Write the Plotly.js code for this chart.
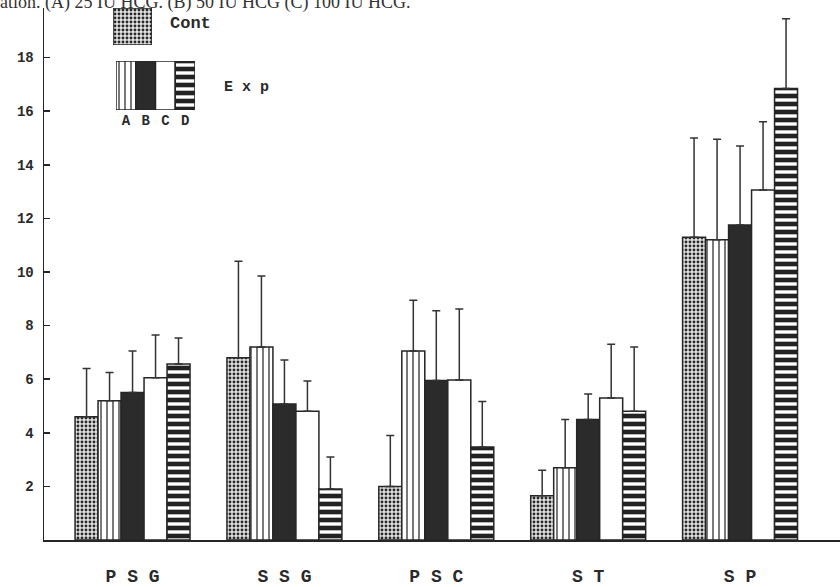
<!DOCTYPE html>
<html>
<head>
<meta charset="utf-8">
<script src="https://cdn.plot.ly/plotly-3.0.1.min.js"></script>
<style>html,body{margin:0;padding:0;background:#fff;}#chart{width:840px;height:587px;}</style>
</head>
<body>
<div id="chart"></div>
<script>
// ---- data ----
const categories = ["PSG", "SSG", "PSC", "ST", "SP"];
const categoryLabels = ["P S G", "S S G", "P S C", "S T", "S P"];
const yTickVals = [2, 4, 6, 8, 10, 12, 14, 16, 18];

const contValues = [4.6, 6.8, 2.0, 1.65, 11.3];
const contErrors = [1.8, 3.6, 1.9, 0.95, 3.7];

const expAValues = [5.2, 7.2, 7.05, 2.7, 11.2];
const expAErrors = [1.05, 2.65, 1.9, 1.8, 3.75];

const expBValues = [5.5, 5.07, 5.95, 4.5, 11.75];
const expBErrors = [1.55, 1.65, 2.6, 0.95, 2.95];

const expCValues = [6.05, 4.8, 5.97, 5.3, 13.06];
const expCErrors = [1.6, 1.13, 2.65, 2.0, 2.55];

const expDValues = [6.57, 1.9, 3.47, 4.8, 16.85];
const expDErrors = [0.97, 1.2, 1.7, 2.4, 2.6];

const legendExpLabels = ["A", "B", "C", "D"];
const captionText = "ation. (A) 25 IU HCG. (B) 50 IU HCG (C) 100 IU HCG.";

// ---- styles ----
const INK = "#262626";
const styles = {
  cont: {color: "#e0e0e0", pattern: {shape: ".", bgcolor: "#e4e4e4", fgcolor: "#2a2a2a", size: 4, solidity: 0.42}},
  A: {color: "#ffffff", pattern: {shape: "|", bgcolor: "#ffffff", fgcolor: "#333333", size: 6, solidity: 0.22}},
  B: {color: "#2b2b2b", pattern: {shape: ""}},
  C: {color: "#ffffff", pattern: {shape: ""}},
  D: {color: "#222222", pattern: {shape: "-", bgcolor: "#222222", fgcolor: "#ffffff", size: 8, solidity: 0.42}}
};
const expStyles = [styles.A, styles.B, styles.C, styles.D];

function barTrace(name, vals, errs, st) {
  return {
    type: "bar", name: name, x: categories, y: vals,
    marker: {color: st.color, pattern: st.pattern, line: {color: INK, width: 1.5}},
    error_y: {type: "data", symmetric: false, array: errs, arrayminus: errs.map(() => 0),
              color: "#333", thickness: 1.5, width: 4},
    showlegend: false, hoverinfo: "skip"
  };
}

const traces = [
  barTrace("Cont", contValues, contErrors, styles.cont),
  barTrace("A", expAValues, expAErrors, styles.A),
  barTrace("B", expBValues, expBErrors, styles.B),
  barTrace("C", expCValues, expCErrors, styles.C),
  barTrace("D", expDValues, expDErrors, styles.D),
  // legend glyph: Cont
  {type: "bar", x: [0], y: [1], width: [1], offset: [-0.5], xaxis: "x2", yaxis: "y2", cliponaxis: false,
   marker: {color: styles.cont.color, pattern: styles.cont.pattern, line: {color: INK, width: 1.5}},
   showlegend: false, hoverinfo: "skip"}
];
// legend glyph: Exp A-D (one bar per treatment)
expStyles.forEach((st, i) => {
  traces.push({type: "bar", x: [i], y: [1], width: [1], offset: [-0.5], xaxis: "x3", yaxis: "y3", cliponaxis: false,
    marker: {color: st.color, pattern: st.pattern, line: {color: INK, width: 1.5}},
    showlegend: false, hoverinfo: "skip"});
});

// pixel helpers for legend placement (plot area: x 44..840, y 8..540)
const PL = 44, PR = 840, PT = 8, PB = 540;
const px = v => (v - PL) / (PR - PL);
const py = v => (PB - v) / (PB - PT);

const monoBold = {family: "Liberation Mono, DejaVu Sans Mono, monospace", color: "#2a2a2a", weight: "bold"};

const layout = {
  width: 840, height: 587,
  margin: {l: PL, r: 840 - PR, t: PT, b: 587 - PB},
  paper_bgcolor: "#ffffff", plot_bgcolor: "#ffffff",
  barmode: "group", bargap: 0.243, bargroupgap: 0,
  showlegend: false,
  xaxis: {
    type: "category", categoryorder: "array", categoryarray: categories,
    tickvals: categories, ticktext: categoryLabels,
    range: [-0.583, 4.658], showgrid: false, zeroline: false,
    showline: true, linecolor: INK, linewidth: 1.5, ticks: "",
    ticklabelstandoff: 19,
    tickfont: Object.assign({size: 18}, monoBold)
  },
  yaxis: {
    range: [0, 19.85], tickvals: yTickVals, ticktext: yTickVals.map(String),
    showgrid: false, zeroline: false, showline: true, linecolor: INK, linewidth: 1.5,
    ticks: "inside", ticklen: 6, tickwidth: 1.5, tickcolor: INK,
    ticklabelstandoff: 6,
    tickfont: Object.assign({size: 14}, monoBold)
  },
  xaxis2: {domain: [px(113), px(152)], anchor: "y2", range: [-0.5, 0.5], visible: false, fixedrange: true},
  yaxis2: {domain: [py(45), 1], anchor: "x2", range: [0, 1], visible: false, fixedrange: true},
  xaxis3: {domain: [px(116), px(195)], anchor: "y3", range: [-0.5, 3.5], showgrid: false, zeroline: false,
           showline: false, ticks: "", tickvals: [0, 1, 2, 3], ticktext: legendExpLabels,
           ticklabelstandoff: 0, tickfont: Object.assign({size: 14}, monoBold), fixedrange: true},
  yaxis3: {domain: [py(110), py(61)], anchor: "x3", range: [0, 1], visible: false, fixedrange: true},
  annotations: [
    {text: "Cont", xref: "paper", yref: "paper", x: px(168), y: py(23), xanchor: "left", yanchor: "middle",
     showarrow: false, font: Object.assign({size: 17}, monoBold)},
    {text: "E x p", xref: "paper", yref: "paper", x: px(222), y: py(87), xanchor: "left", yanchor: "middle",
     showarrow: false, font: Object.assign({size: 15}, monoBold)},
    {text: captionText, xref: "paper", yref: "paper", x: px(-2), y: py(15), xanchor: "left", yanchor: "bottom",
     showarrow: false, font: {family: "Liberation Serif, serif", size: 18, color: "#333"}}
  ]
};

Plotly.newPlot("chart", traces, layout, {staticPlot: true, displayModeBar: false});
</script>
</body>
</html>
